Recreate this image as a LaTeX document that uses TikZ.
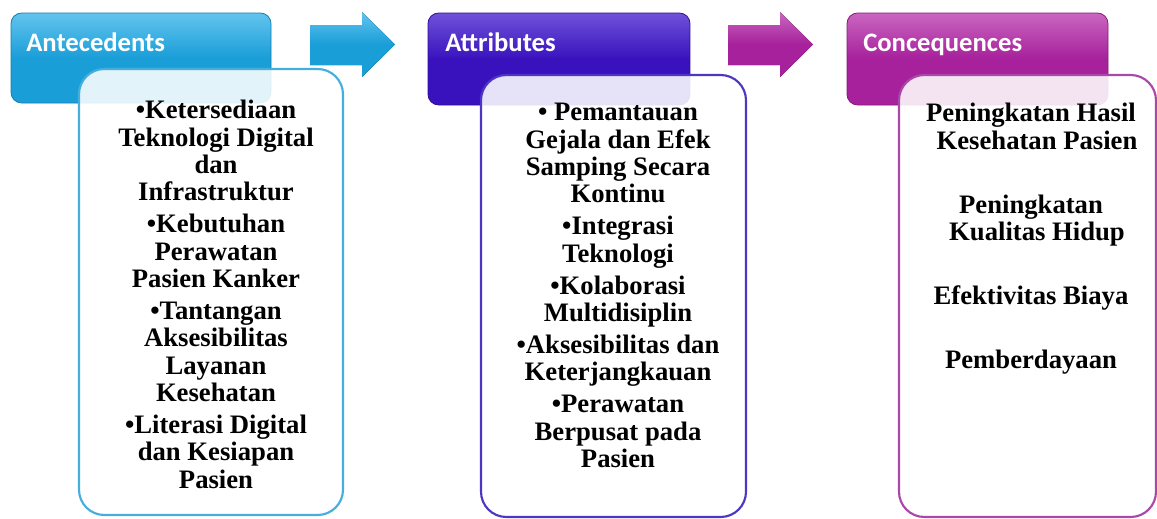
\documentclass[tikz,border=0pt]{standalone}
\usepackage{fontspec}
\setmainfont{Liberation Serif}
\newfontfamily\hdrfont{Carlito}
\usetikzlibrary{calc}
\definecolor{cyanBase}{HTML}{1A9ED8}
\definecolor{cyanTop}{HTML}{62C4EE}
\definecolor{cyanLine}{HTML}{45AEDC}
\definecolor{violBase}{HTML}{3912BE}
\definecolor{violTop}{HTML}{6F52DA}
\definecolor{violLine}{HTML}{4C36C2}
\definecolor{magBase}{HTML}{A6219B}
\definecolor{magTop}{HTML}{CA66C0}
\definecolor{magLine}{HTML}{A948A9}
\tikzset{
  hdrbox/.style={rounded corners=8pt, inner sep=0pt, draw=#1Base!80!black, line width=0.6pt,
     top color=#1Top, bottom color=#1Base, middle color=#1Base},
  hdrtext/.style={anchor=base west, inner sep=0pt, text=white, font=\hdrfont\bfseries\fontsize{20pt}{23pt}\selectfont},
  contentbox/.style={rounded corners=19pt, inner sep=0pt, draw=#1Line, line width=1.6pt,
     fill=white, fill opacity=0.88},
  bodytext/.style={anchor=north, inner sep=0pt, align=center, text=black,
     font=\bfseries\fontsize{20pt}{20.5pt}\selectfont},
  blockarrow/.style={top color=#1Top, bottom color=#1Base, middle color=#1Base, draw=none}
}
\begin{document}
\begin{tikzpicture}[x=0.75pt,y=-0.75pt]
\useasboundingbox[fill=white] (0,0) rectangle (1157,518);

% header boxes
\node[hdrbox=cyan, minimum width=195pt, minimum height=67.5pt] (h1) at (141,58) {};
\node[hdrbox=viol, minimum width=196.5pt, minimum height=69pt] (h2) at (559,59) {};
\node[hdrbox=mag, minimum width=195.75pt, minimum height=69pt] (h3) at (977.5,59) {};

\node[hdrtext] (t1) at (26,51) {Antecedents};
\node[hdrtext] (t2) at (445,51) {Attributes};
\node[hdrtext] (t3) at (863,51) {Concequences};

% block arrows
\fill[blockarrow=cyan] (310,25) -- (362,25) -- (362,12) -- (395,44.5) -- (362,77) -- (362,65) -- (310,65) -- cycle;
\fill[blockarrow=mag] (728,25) -- (780,25) -- (780,12) -- (813,44.5) -- (780,77) -- (780,65) -- (728,65) -- cycle;

% content boxes
\node[contentbox=cyan, minimum width=198pt, minimum height=334.5pt] (c1) at (211,292) {};
\node[contentbox=viol, minimum width=198.75pt, minimum height=331.5pt] (c2) at (613.5,296) {};
\node[contentbox=mag, minimum width=192.75pt, minimum height=331.5pt] (c3) at (1027.5,296) {};

% texts
\node[bodytext] (b1) at (216,100) {%
  \textbullet Ketersediaan\\ Teknologi Digital\\ dan\\ Infrastruktur\\[3.5pt]
  \textbullet Kebutuhan\\ Perawatan\\ Pasien Kanker\\[3.5pt]
  \textbullet Tantangan\\ Aksesibilitas\\ Layanan\\ Kesehatan\\[3.5pt]
  \textbullet Literasi Digital\\ dan Kesiapan\\ Pasien};
\node[bodytext] (b2) at (618,103) {%
  \textbullet{} Pemantauan\\ Gejala dan Efek\\ Samping Secara\\ Kontinu\\[3.5pt]
  \textbullet Integrasi\\ Teknologi\\[3.5pt]
  \textbullet Kolaborasi\\ Multidisiplin\\[3.5pt]
  \textbullet Aksesibilitas dan\\ Keterjangkauan\\[3.5pt]
  \textbullet Perawatan\\ Berpusat pada\\ Pasien};
\node[bodytext] (b3) at (1031,103) {%
  Peningkatan Hasil\\ \hspace*{9pt}Kesehatan Pasien\\[27.5pt]
  Peningkatan\\ \hspace*{9pt}Kualitas Hidup\\[27.5pt]
  Efektivitas Biaya\\[27.5pt]
  Pemberdayaan};
\end{tikzpicture}
\end{document}
